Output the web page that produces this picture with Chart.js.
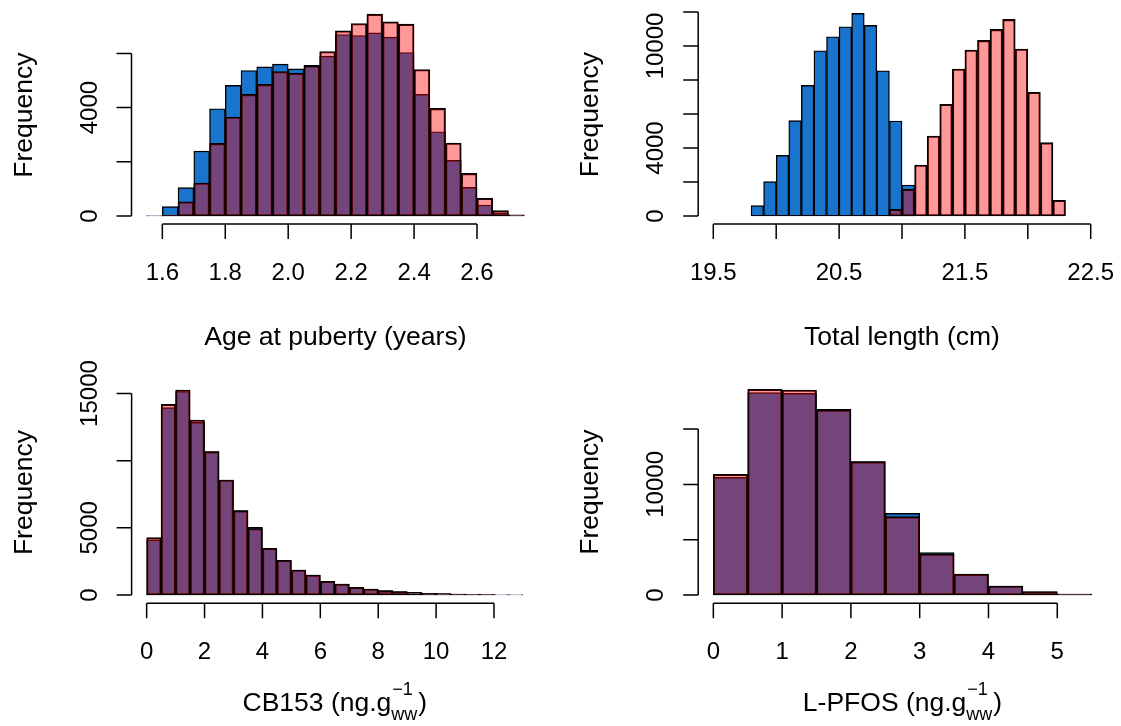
<!DOCTYPE html>
<html>
<head>
<meta charset="utf-8">
<title>Histograms</title>
<script src="https://cdn.jsdelivr.net/npm/chart.js@4.4.1/dist/chart.umd.min.js"></script>
<style>
  html, body { margin: 0; padding: 0; background: #fff; }
  #wrap { position: relative; width: 1121px; height: 726px; overflow: hidden; }
  .panel { position: absolute; }
</style>
</head>
<body>
<div id="wrap">
  <div class="panel" style="left:0;top:0"><canvas id="age" width="560" height="363"></canvas></div>
  <div class="panel" style="left:560px;top:0"><canvas id="length" width="561" height="363"></canvas></div>
  <div class="panel" style="left:0;top:330px"><canvas id="cb153" width="560" height="396"></canvas></div>
  <div class="panel" style="left:560px;top:330px"><canvas id="pfos" width="561" height="396"></canvas></div>
</div>
<script>
// --- Age at puberty (years), breaks every 0.05 from 1.55
const ageStart = 1.55, ageWidth = 0.05;
const ageBlue = [10, 344, 1045, 2397, 3957, 4818, 5371, 5506, 5604, 5432, 5560, 5899,
                 6698, 6661, 6760, 6600, 6034, 4486, 3109, 2052, 1057, 406, 98, 20];
const agePink = [5, 30, 528, 1217, 2679, 3650, 4486, 4855, 5334, 5272, 5540, 6071,
                 6833, 7104, 7448, 7165, 7079, 5408, 3970, 2692, 1573, 651, 197, 40];
const ageXTicks = [1.6, 1.8, 2.0, 2.2, 2.4, 2.6];
const ageXLabels = ['1.6', '1.8', '2.0', '2.2', '2.4', '2.6'];
const ageYTicks = [0, 2000, 4000, 6000];
const ageYLabels = ['0', '', '4000', ''];

// --- Total length (cm), breaks every 0.1 from 19.8
const lenStart = 19.8, lenWidth = 0.1;
const lenBlue = [608, 2019, 3567, 5606, 7683, 9722, 10545, 11133, 11917, 11211, 8546, 5586, 1823,
                 0, 0, 0, 0, 0, 0, 0, 0, 0, 0, 0, 0];
const lenPink = [0, 0, 0, 0, 0, 0, 0, 0, 0, 0, 0, 392, 1568,
                 2999, 4704, 6566, 8644, 9761, 10329, 10976, 11564, 9820, 7272, 4312, 921];
const lenXTicks = [19.5, 20.0, 20.5, 21.0, 21.5, 22.0, 22.5];
const lenXLabels = ['19.5', '', '20.5', '', '21.5', '', '22.5'];
const lenYTicks = [0, 2000, 4000, 6000, 8000, 10000, 12000];
const lenYLabels = ['0', '', '4000', '', '', '10000', ''];

// --- CB153 (ng/g ww), breaks every 0.5 from 0
const cbStart = 0, cbWidth = 0.5;
const cbBlue = [4095, 13950, 15150, 12857, 10673, 8563, 6279, 5038, 3475, 2581, 1862, 1489, 1018,
                819, 571, 447, 323, 248, 199, 124, 100, 75, 50, 50, 20, 10];
const cbPink = [4269, 14197, 15264, 13030, 10673, 8563, 6279, 4950, 3475, 2581, 1862, 1489, 1018,
                819, 571, 447, 323, 248, 199, 124, 100, 75, 50, 50, 20, 10];
const cbXTicks = [0, 2, 4, 6, 8, 10, 12];
const cbXLabels = ['0', '2', '4', '6', '8', '10', '12'];
const cbYTicks = [0, 5000, 10000, 15000];
const cbYLabels = ['0', '5000', '', '15000'];

// --- L-PFOS (ng/g ww), breaks every 0.5 from 0
const pfStart = 0, pfWidth = 0.5;
const pfBlue = [10639, 18295, 18235, 16780, 12056, 7384, 3828, 1899, 814, 301, 90];
const pfPink = [10911, 18596, 18536, 16728, 12056, 7083, 3700, 1870, 800, 290, 85];
const pfXTicks = [0, 1, 2, 3, 4, 5];
const pfXLabels = ['0', '1', '2', '3', '4', '5'];
const pfYTicks = [0, 5000, 10000, 15000];
const pfYLabels = ['0', '', '10000', ''];

const BLUE = '#1874CD';
const PINK = 'rgba(255, 0, 0, 0.4)';
const FONT = '"Liberation Sans", Arial, sans-serif';

// R extends each axis range by 4 %
function rRange(lo, hi) {
    const d = (hi - lo) * 0.04;
    return [lo - d, hi + d];
}

function centres(start, width, n) {
    return Array.from({ length: n }, (_, i) => start + width * (i + 0.5));
}

// base-R style axes: detached lines that only span the ticks
const baseAxes = {
    id: 'baseAxes',
    afterDraw(chart, args, o) {
        const { ctx, chartArea: a } = chart;
        const x = chart.scales.x, y = chart.scales.y;
        ctx.save();
        ctx.strokeStyle = '#000';
        ctx.fillStyle = '#000';
        ctx.lineWidth = 1.5;

        const yb = a.bottom;
        const xl = a.left;
        ctx.beginPath();
        ctx.moveTo(x.getPixelForValue(o.xTicks[0]), yb);
        ctx.lineTo(x.getPixelForValue(o.xTicks[o.xTicks.length - 1]), yb);
        o.xTicks.forEach(v => {
            const px = x.getPixelForValue(v);
            ctx.moveTo(px, yb);
            ctx.lineTo(px, yb + 15);
        });
        ctx.moveTo(xl, y.getPixelForValue(o.yTicks[0]));
        ctx.lineTo(xl, y.getPixelForValue(o.yTicks[o.yTicks.length - 1]));
        o.yTicks.forEach(v => {
            const py = y.getPixelForValue(v);
            ctx.moveTo(xl, py);
            ctx.lineTo(xl - 15, py);
        });
        ctx.stroke();

        // tick labels
        ctx.font = '24px ' + FONT;
        ctx.textAlign = 'center';
        ctx.textBaseline = 'alphabetic';
        o.xTicks.forEach((v, i) => {
            if (o.xLabels[i]) ctx.fillText(o.xLabels[i], x.getPixelForValue(v), yb + 56);
        });
        o.yTicks.forEach((v, i) => {
            if (!o.yLabels[i]) return;
            ctx.save();
            ctx.translate(xl - 35, y.getPixelForValue(v));
            ctx.rotate(-Math.PI / 2);
            ctx.fillText(o.yLabels[i], 0, 0);
            ctx.restore();
        });

        // axis titles
        ctx.font = '26.5px ' + FONT;
        ctx.save();
        ctx.translate(xl - 100, (a.top + a.bottom) / 2);
        ctx.rotate(-Math.PI / 2);
        ctx.fillText('Frequency', 0, 0);
        ctx.restore();

        const cx = (a.left + a.right) / 2;
        const by = yb + o.titleOffset;
        if (!o.unit) {
            ctx.fillText(o.xTitle, cx, by);
        } else {
            // "name (ng.g^-1_ww)"
            const head = o.xTitle + ' (ng.g';
            const tail = ')';
            ctx.font = '26.5px ' + FONT;
            const wHead = ctx.measureText(head).width;
            const wTail = ctx.measureText(tail).width;
            ctx.font = '18px ' + FONT;
            const wSup = ctx.measureText('\u22121').width;
            const wSub = ctx.measureText('ww').width;
            const wMid = Math.max(wSup, wSub) + 1;
            let sx = cx - (wHead + wMid + wTail) / 2;
            ctx.textAlign = 'left';
            ctx.font = '26.5px ' + FONT;
            ctx.fillText(head, sx, by);
            sx += wHead;
            ctx.font = '18px ' + FONT;
            ctx.fillText('\u22121', sx + 1, by - 16);
            ctx.fillText('ww', sx, by + 9);
            sx += wMid;
            ctx.font = '26.5px ' + FONT;
            ctx.fillText(tail, sx, by);
        }
        ctx.restore();
    }
};

function makeHist(id, start, width, blue, pink, xlim, axes, padding) {
    const mids = centres(start, width, blue.length);
    const xr = rRange(xlim[0], xlim[1]);
    const yr = rRange(0, Math.max(...blue, ...pink));
    const ctx = document.getElementById(id).getContext('2d');
    new Chart(ctx, {
        type: 'bar',
        data: {
            datasets: [{
                label: 'blue',
                data: mids.map((m, i) => ({ x: m, y: blue[i] })),
                backgroundColor: BLUE,
                borderColor: '#000',
                borderWidth: 1.4,
                borderSkipped: false,
                grouped: false,
                barPercentage: 1,
                categoryPercentage: 1,
                order: 2
            }, {
                label: 'pink',
                data: mids.map((m, i) => ({ x: m, y: pink[i] })),
                backgroundColor: PINK,
                borderColor: '#000',
                borderWidth: 1.4,
                borderSkipped: false,
                grouped: false,
                barPercentage: 1,
                categoryPercentage: 1,
                order: 1
            }]
        },
        options: {
            responsive: false,
            animation: false,
            events: [],
            layout: { padding: padding },
            scales: {
                x: {
                    type: 'linear',
                    display: false,
                    offset: false,
                    min: xr[0],
                    max: xr[1],
                    afterBuildTicks: s => { s.ticks = axes.xTicks.map(v => ({ value: v })); }
                },
                y: {
                    type: 'linear',
                    display: false,
                    min: yr[0],
                    max: yr[1]
                }
            },
            plugins: {
                legend: { display: false },
                tooltip: { enabled: false },
                baseAxes: axes
            }
        },
        plugins: [baseAxes]
    });
}

makeHist('age', ageStart, ageWidth, ageBlue, agePink, [1.55, 2.75], {
    xTicks: ageXTicks, xLabels: ageXLabels, yTicks: ageYTicks, yLabels: ageYLabels,
    xTitle: 'Age at puberty (years)', titleOffset: 121
}, { left: 131.5, right: 20.7, top: 6.1, bottom: 138.9 });

makeHist('length', lenStart, lenWidth, lenBlue, lenPink, [19.5, 22.5], {
    xTicks: lenXTicks, xLabels: lenXLabels, yTicks: lenYTicks, yLabels: lenYLabels,
    xTitle: 'Total length (cm)', titleOffset: 121
}, { left: 138.2, right: 15.2, top: 5.3, bottom: 138.9 });

makeHist('cb153', cbStart, cbWidth, cbBlue, cbPink, [0, 13], {
    xTicks: cbXTicks, xLabels: cbXLabels, yTicks: cbYTicks, yLabels: cbYLabels,
    xTitle: 'CB153', unit: true, titleOffset: 108
}, { left: 131.6, right: 22, top: 51.8, bottom: 122.8 });

makeHist('pfos', pfStart, pfWidth, pfBlue, pfPink, [0, 5.5], {
    xTicks: pfXTicks, xLabels: pfXLabels, yTicks: pfYTicks, yLabels: pfYLabels,
    xTitle: 'L-PFOS', unit: true, titleOffset: 108
}, { left: 138.2, right: 14.2, top: 51.1, bottom: 122.8 });
</script>
</body>
</html>
